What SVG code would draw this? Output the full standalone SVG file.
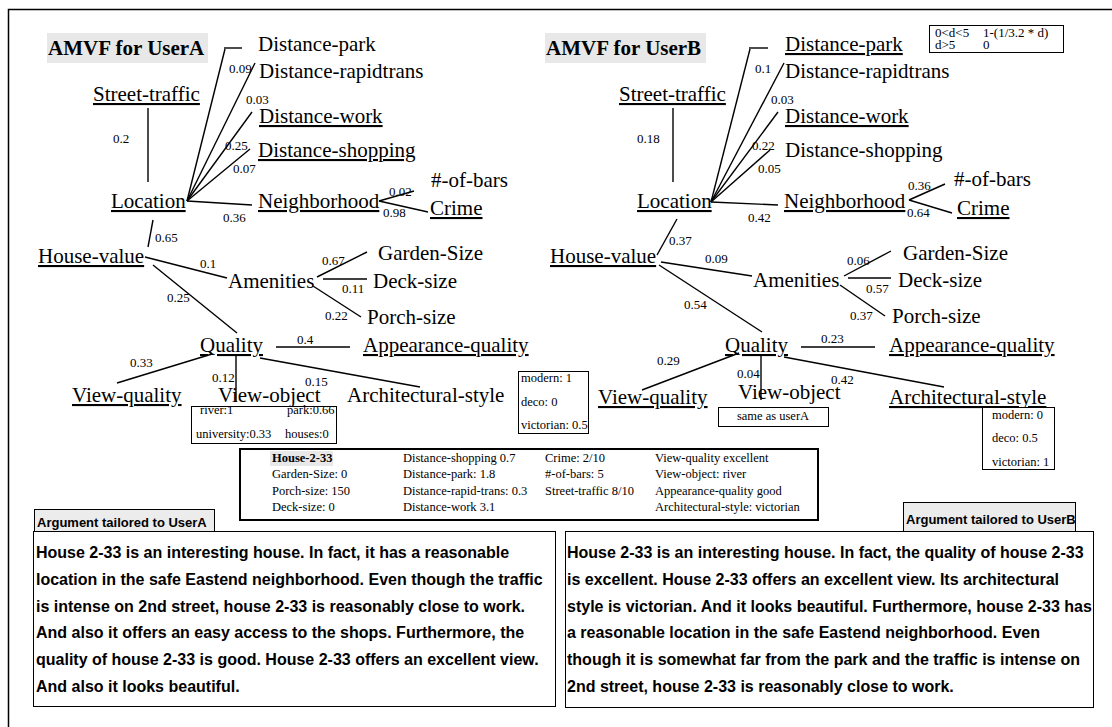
<svg xmlns="http://www.w3.org/2000/svg" width="1112" height="727" viewBox="0 0 1112 727">
<style>
.n{font-family:"Liberation Serif","Times New Roman",serif;font-size:21px;fill:#000}
.u{text-decoration:underline}
.w{font-family:"Liberation Serif","Times New Roman",serif;font-size:13px;fill:#000}
.s{font-family:"Liberation Serif","Times New Roman",serif;font-size:12.5px;fill:#000}
.f{font-family:"Liberation Serif","Times New Roman",serif;font-size:13px;fill:#000}
.t{font-family:"Liberation Serif","Times New Roman",serif;font-size:21px;font-weight:bold;fill:#000}
.arg{font-family:"Liberation Sans",Arial,sans-serif;font-size:16px;font-weight:bold;fill:#000}
.tag{font-family:"Liberation Sans",Arial,sans-serif;font-size:13px;font-weight:bold;fill:#000}
.e{stroke:#000;stroke-width:1.4;fill:none}
.box{fill:#fff;stroke:#000;stroke-width:1}
.gbg{fill:#e8e8e8}
</style>
<rect width="1112" height="727" fill="#fff"/>
<path d="M8.5,727 V9.5 H1112" fill="none" stroke="#000" stroke-width="1.5"/>

<g id="connectors">
  <!-- left tree -->
  <line class="e" x1="224" y1="48" x2="242" y2="48"/>
  <line class="e" x1="187" y1="201" x2="225" y2="49"/>
  <line class="e" x1="187" y1="201" x2="255" y2="63"/>
  <line class="e" x1="187" y1="201" x2="252" y2="112"/>
  <line class="e" x1="187" y1="201" x2="250" y2="149"/>
  <line class="e" x1="187" y1="201" x2="252" y2="205"/>
  <line class="e" x1="148" y1="108" x2="148" y2="182"/>
  <line class="e" x1="379" y1="201" x2="414" y2="191"/>
  <line class="e" x1="379" y1="201" x2="428" y2="212"/>
  <line class="e" x1="153" y1="220" x2="148" y2="247"/>
  <line class="e" x1="145" y1="257" x2="227" y2="278"/>
  <line class="e" x1="153" y1="265" x2="237" y2="333"/>
  <line class="e" x1="317" y1="277" x2="367" y2="252"/>
  <line class="e" x1="323" y1="279" x2="367" y2="279"/>
  <line class="e" x1="313" y1="286" x2="361" y2="317"/>
  <line class="e" x1="276" y1="347" x2="350" y2="347"/>
  <line class="e" x1="212" y1="354" x2="117" y2="383"/>
  <line class="e" x1="236" y1="355" x2="236" y2="402"/>
  <line class="e" x1="260" y1="358" x2="420" y2="387"/>
  <text class="w" x="229" y="73">0.09</text>
  <text class="w" x="246" y="104">0.03</text>
  <text class="w" x="113" y="143">0.2</text>
  <text class="w" x="225" y="150">0.25</text>
  <text class="w" x="233" y="173">0.07</text>
  <text class="w" x="223" y="222">0.36</text>
  <text class="w" x="389" y="196">0.02</text>
  <text class="w" x="383" y="217">0.98</text>
  <text class="w" x="155" y="242">0.65</text>
  <text class="w" x="200" y="268">0.1</text>
  <text class="w" x="167" y="302">0.25</text>
  <text class="w" x="322" y="265">0.67</text>
  <text class="w" x="342" y="293">0.11</text>
  <text class="w" x="325" y="320">0.22</text>
  <text class="w" x="297" y="344">0.4</text>
  <text class="w" x="130" y="367">0.33</text>
  <text class="w" x="212" y="382">0.12</text>
  <text class="w" x="305" y="386">0.15</text>
  <!-- right tree -->
  <line class="e" x1="749" y1="48" x2="768" y2="48"/>
  <line class="e" x1="711" y1="202" x2="750" y2="49"/>
  <line class="e" x1="711" y1="202" x2="784" y2="63"/>
  <line class="e" x1="711" y1="202" x2="778" y2="112"/>
  <line class="e" x1="711" y1="202" x2="770" y2="150"/>
  <line class="e" x1="711" y1="202" x2="778" y2="205"/>
  <line class="e" x1="673" y1="108" x2="673" y2="182"/>
  <line class="e" x1="909" y1="200" x2="945" y2="184"/>
  <line class="e" x1="909" y1="200" x2="952" y2="213"/>
  <line class="e" x1="677" y1="219" x2="657" y2="255"/>
  <line class="e" x1="661" y1="262" x2="752" y2="276"/>
  <line class="e" x1="659" y1="265" x2="762" y2="332"/>
  <line class="e" x1="844" y1="276" x2="891" y2="251"/>
  <line class="e" x1="848" y1="278" x2="891" y2="278"/>
  <line class="e" x1="840" y1="285" x2="885" y2="316"/>
  <line class="e" x1="801" y1="347" x2="875" y2="347"/>
  <line class="e" x1="739" y1="353" x2="642" y2="390"/>
  <line class="e" x1="761" y1="355" x2="761" y2="400"/>
  <line class="e" x1="784" y1="357" x2="944" y2="387"/>
  <text class="w" x="755" y="73">0.1</text>
  <text class="w" x="771" y="104">0.03</text>
  <text class="w" x="637" y="143">0.18</text>
  <text class="w" x="752" y="150">0.22</text>
  <text class="w" x="758" y="173">0.05</text>
  <text class="w" x="748" y="222">0.42</text>
  <text class="w" x="908" y="190">0.36</text>
  <text class="w" x="907" y="217">0.64</text>
  <text class="w" x="669" y="245">0.37</text>
  <text class="w" x="705" y="263">0.09</text>
  <text class="w" x="684" y="309">0.54</text>
  <text class="w" x="847" y="265">0.06</text>
  <text class="w" x="866" y="293">0.57</text>
  <text class="w" x="850" y="320">0.37</text>
  <text class="w" x="821" y="343">0.23</text>
  <text class="w" x="657" y="365">0.29</text>
  <text class="w" x="737" y="378">0.04</text>
  <text class="w" x="831" y="384">0.42</text>
</g>

<!-- Left AMVF -->
<g id="titleA"><rect class="gbg" x="47" y="33" width="161" height="30"/><text class="t" x="48" y="55">AMVF for UserA</text></g>
<g id="a-distance-park"><text class="n" x="258" y="51">Distance-park</text></g>
<g id="a-distance-rapidtrans"><text class="n" x="259" y="78">Distance-rapidtrans</text></g>
<g id="a-street-traffic"><text class="n u" x="93" y="101">Street-traffic</text></g>
<g id="a-distance-work"><text class="n u" x="259" y="123">Distance-work</text></g>
<g id="a-distance-shopping"><text class="n u" x="258" y="157">Distance-shopping</text></g>
<g id="a-location"><text class="n u" x="111" y="208">Location</text></g>
<g id="a-neighborhood"><text class="n u" x="258" y="208">Neighborhood</text></g>
<g id="a-bars"><text class="n" x="431" y="187">#-of-bars</text></g>
<g id="a-crime"><text class="n u" x="430" y="215">Crime</text></g>
<g id="a-house-value"><text class="n u" x="38" y="263">House-value</text></g>
<g id="a-amenities"><text class="n" x="228" y="288">Amenities</text></g>
<g id="a-garden"><text class="n" x="378" y="260">Garden-Size</text></g>
<g id="a-deck"><text class="n" x="373" y="288">Deck-size</text></g>
<g id="a-porch"><text class="n" x="367" y="324">Porch-size</text></g>
<g id="a-quality"><text class="n u" x="200" y="352">Quality</text></g>
<g id="a-appearance"><text class="n u" x="363" y="352">Appearance-quality</text></g>
<g id="a-view-quality"><text class="n u" x="72" y="402">View-quality</text></g>
<g id="a-view-object"><text class="n" x="218" y="402">View-object</text></g>
<g id="a-arch"><text class="n" x="347" y="402">Architectural-style</text></g>
<g id="a-style-box"><rect class="box" x="518.5" y="371.5" width="70" height="62"/>
  <text class="s" x="521" y="382">modern: 1</text><text class="s" x="521" y="406">deco: 0</text><text class="s" x="521" y="429">victorian: 0.5</text></g>
<g id="a-object-box"><rect class="box" x="191.5" y="406.5" width="145" height="37"/>
  <text class="s" x="200" y="414">river:1</text><text class="s" x="287" y="414">park:0.66</text>
  <text class="s" x="196" y="438">university:0.33</text><text class="s" x="285" y="438">houses:0</text></g>

<!-- Right AMVF -->
<g id="titleB"><rect class="gbg" x="545" y="33" width="161" height="30"/><text class="t" x="546" y="55">AMVF for UserB</text></g>
<g id="formula-box"><rect class="box" x="929.5" y="25.5" width="134" height="27"/>
  <text class="f" x="935" y="37">0&lt;d&lt;5</text><text class="f" x="983" y="37">1-(1/3.2 * d)</text>
  <text class="f" x="935" y="49">d&gt;5</text><text class="f" x="983" y="49">0</text></g>
<g id="b-distance-park"><text class="n u" x="785" y="51">Distance-park</text></g>
<g id="b-distance-rapidtrans"><text class="n" x="785" y="78">Distance-rapidtrans</text></g>
<g id="b-street-traffic"><text class="n u" x="619" y="101">Street-traffic</text></g>
<g id="b-distance-work"><text class="n u" x="785" y="123">Distance-work</text></g>
<g id="b-distance-shopping"><text class="n" x="785" y="157">Distance-shopping</text></g>
<g id="b-location"><text class="n u" x="637" y="208">Location</text></g>
<g id="b-neighborhood"><text class="n u" x="784" y="208">Neighborhood</text></g>
<g id="b-bars"><text class="n" x="954" y="186">#-of-bars</text></g>
<g id="b-crime"><text class="n u" x="957" y="215">Crime</text></g>
<g id="b-house-value"><text class="n u" x="550" y="263">House-value</text></g>
<g id="b-amenities"><text class="n" x="753" y="287">Amenities</text></g>
<g id="b-garden"><text class="n" x="903" y="260">Garden-Size</text></g>
<g id="b-deck"><text class="n" x="898" y="287">Deck-size</text></g>
<g id="b-porch"><text class="n" x="892" y="323">Porch-size</text></g>
<g id="b-quality"><text class="n u" x="725" y="352">Quality</text></g>
<g id="b-appearance"><text class="n u" x="889" y="352">Appearance-quality</text></g>
<g id="b-view-quality"><text class="n u" x="598" y="404">View-quality</text></g>
<g id="b-view-object"><text class="n" x="738" y="399">View-object</text></g>
<g id="b-arch"><text class="n u" x="889" y="404">Architectural-style</text></g>
<g id="b-object-box"><rect class="box" x="718.5" y="407.5" width="110" height="19"/>
  <text class="s" x="773" y="420" text-anchor="middle">same as userA</text></g>
<g id="b-style-box"><rect class="box" x="982.5" y="407.5" width="72" height="62"/>
  <text class="s" x="992" y="419">modern: 0</text><text class="s" x="992" y="442">deco: 0.5</text><text class="s" x="992" y="466">victorian: 1</text></g>

<!-- House table -->
<g id="house-table">
  <rect x="240" y="449" width="578" height="71" fill="#fff" stroke="#000" stroke-width="2"/>
  <rect class="gbg" x="270" y="451" width="63" height="15"/>
  <text class="s" x="272" y="462" font-weight="bold">House-2-33</text>
  <text class="s" x="272" y="478">Garden-Size: 0</text>
  <text class="s" x="272" y="495">Porch-size: 150</text>
  <text class="s" x="272" y="511">Deck-size: 0</text>
  <text class="s" x="403" y="462">Distance-shopping 0.7</text>
  <text class="s" x="403" y="478">Distance-park: 1.8</text>
  <text class="s" x="403" y="495">Distance-rapid-trans: 0.3</text>
  <text class="s" x="403" y="511">Distance-work 3.1</text>
  <text class="s" x="545" y="462">Crime: 2/10</text>
  <text class="s" x="545" y="478">#-of-bars: 5</text>
  <text class="s" x="545" y="495">Street-traffic 8/10</text>
  <text class="s" x="655" y="462">View-quality excellent</text>
  <text class="s" x="655" y="478">View-object: river</text>
  <text class="s" x="655" y="495">Appearance-quality good</text>
  <text class="s" x="655" y="511">Architectural-style: victorian</text>
</g>

<!-- Arguments -->
<g id="argA">
  <rect x="34.5" y="509.5" width="180" height="22" fill="#ececec" stroke="#000" stroke-width="1"/>
  <text class="tag" x="37" y="527">Argument tailored to UserA</text>
  <rect class="box" x="33.5" y="531.5" width="522" height="175"/>
  <text class="arg" x="36" y="558">House 2-33 is an interesting house. In fact, it has a reasonable</text>
  <text class="arg" x="36" y="585">location in the safe Eastend neighborhood. Even though the traffic</text>
  <text class="arg" x="36" y="612">is intense on 2nd street, house 2-33 is reasonably close to work.</text>
  <text class="arg" x="36" y="638">And also it offers an easy access to the shops. Furthermore, the</text>
  <text class="arg" x="36" y="665">quality of house 2-33 is good. House 2-33 offers an excellent view.</text>
  <text class="arg" x="36" y="692">And also it looks beautiful.</text>
</g>
<g id="argB">
  <rect x="903.5" y="502.5" width="172" height="29" fill="#ececec" stroke="#000" stroke-width="1"/>
  <text class="tag" x="906" y="524" font-size="12.2">Argument tailored to UserB</text>
  <rect class="box" x="565.5" y="531.5" width="528" height="176"/>
  <text class="arg" x="567" y="558">House 2-33 is an interesting house. In fact, the quality of house 2-33</text>
  <text class="arg" x="567" y="585">is excellent. House 2-33 offers an excellent view. Its architectural</text>
  <text class="arg" x="567" y="612">style is victorian. And it looks beautiful. Furthermore, house 2-33 has</text>
  <text class="arg" x="567" y="638">a reasonable location in the safe Eastend neighborhood. Even</text>
  <text class="arg" x="567" y="665">though it is somewhat far from the park and the traffic is intense on</text>
  <text class="arg" x="567" y="692">2nd street, house 2-33 is reasonably close to work.</text>
</g>
</svg>
